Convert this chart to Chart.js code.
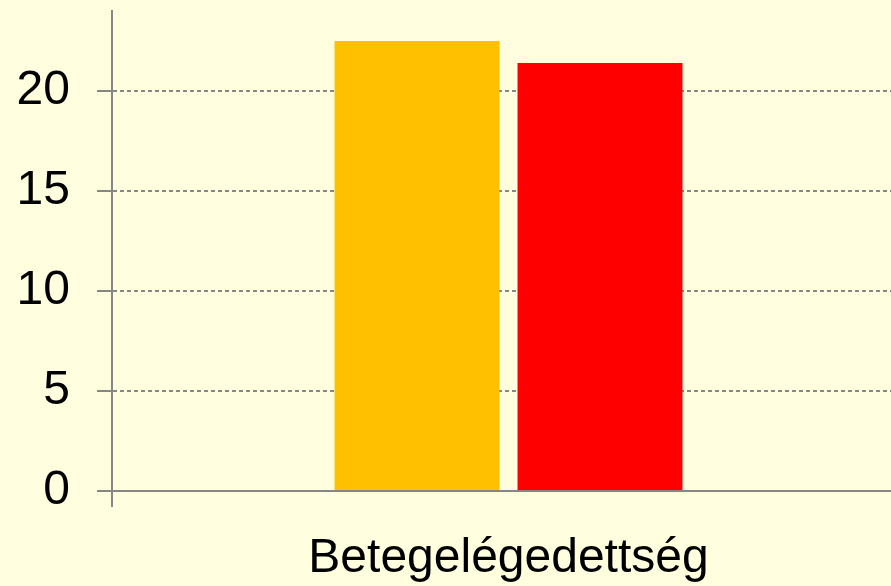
<!DOCTYPE html>
<html>
<head>
<meta charset="utf-8">
<script src="https://cdn.jsdelivr.net/npm/chart.js@4"></script>
<style>
  html, body { margin: 0; padding: 0; background: #FFFFE0; overflow: hidden; }
  #wrap { width: 905px; height: 586px; }
</style>
</head>
<body>
<div id="wrap"><canvas id="barChart"></canvas></div>
<script>
// data
const categories = ["Betegelégedettség"];
const series1 = [22.5];
const series2 = [21.4];
const yTicks = [0, 5, 10, 15, 20];

const GRAY = "#868686";
const FONT = "'Liberation Sans', Arial, sans-serif";

const ctx = document.getElementById("barChart").getContext("2d");
new Chart(ctx, {
  type: "bar",
  data: {
    labels: categories,
    datasets: [
      {
        label: "Sorozat 1",
        data: series1,
        backgroundColor: "#FFC000",
        categoryPercentage: 0.4615,
        barPercentage: 0.9016,
      },
      {
        label: "Sorozat 2",
        data: series2,
        backgroundColor: "#FF0000",
        categoryPercentage: 0.4615,
        barPercentage: 0.9016,
      },
    ],
  },
  options: {
    responsive: true,
    maintainAspectRatio: false,
    animation: false,
    layout: { padding: { top: 11, left: 0, right: 0, bottom: 0 } },
    plugins: {
      legend: { display: false },
      tooltip: { enabled: false },
    },
    scales: {
      x: {
        grid: {
          display: true,
          drawOnChartArea: false,
          tickLength: 16,
          color: GRAY,
          lineWidth: 2,
        },
        border: { display: true, color: GRAY, width: 2 },
        ticks: {
          color: "#000",
          padding: 23,
          font: { family: FONT, size: 48 },
        },
        afterFit: (s) => {
          s.height = 95;
        },
      },
      y: {
        min: 0,
        max: 24,
        grid: {
          color: GRAY,
          lineWidth: 2,
          tickLength: 15,
          tickColor: GRAY,
          tickWidth: 2,
        },
        border: { display: true, color: GRAY, width: 2, dash: [4, 3] },
        ticks: {
          stepSize: 5,
          includeBounds: false,
          color: "#000",
          padding: 27,
          font: { family: FONT, size: 48 },
          callback: (v) => (yTicks.includes(v) ? v : ""),
        },
        afterFit: (s) => {
          s.width = 112;
          s.paddingTop = 0;
          s.paddingBottom = 0;
        },
      },
    },
  },
});
</script>
</body>
</html>
